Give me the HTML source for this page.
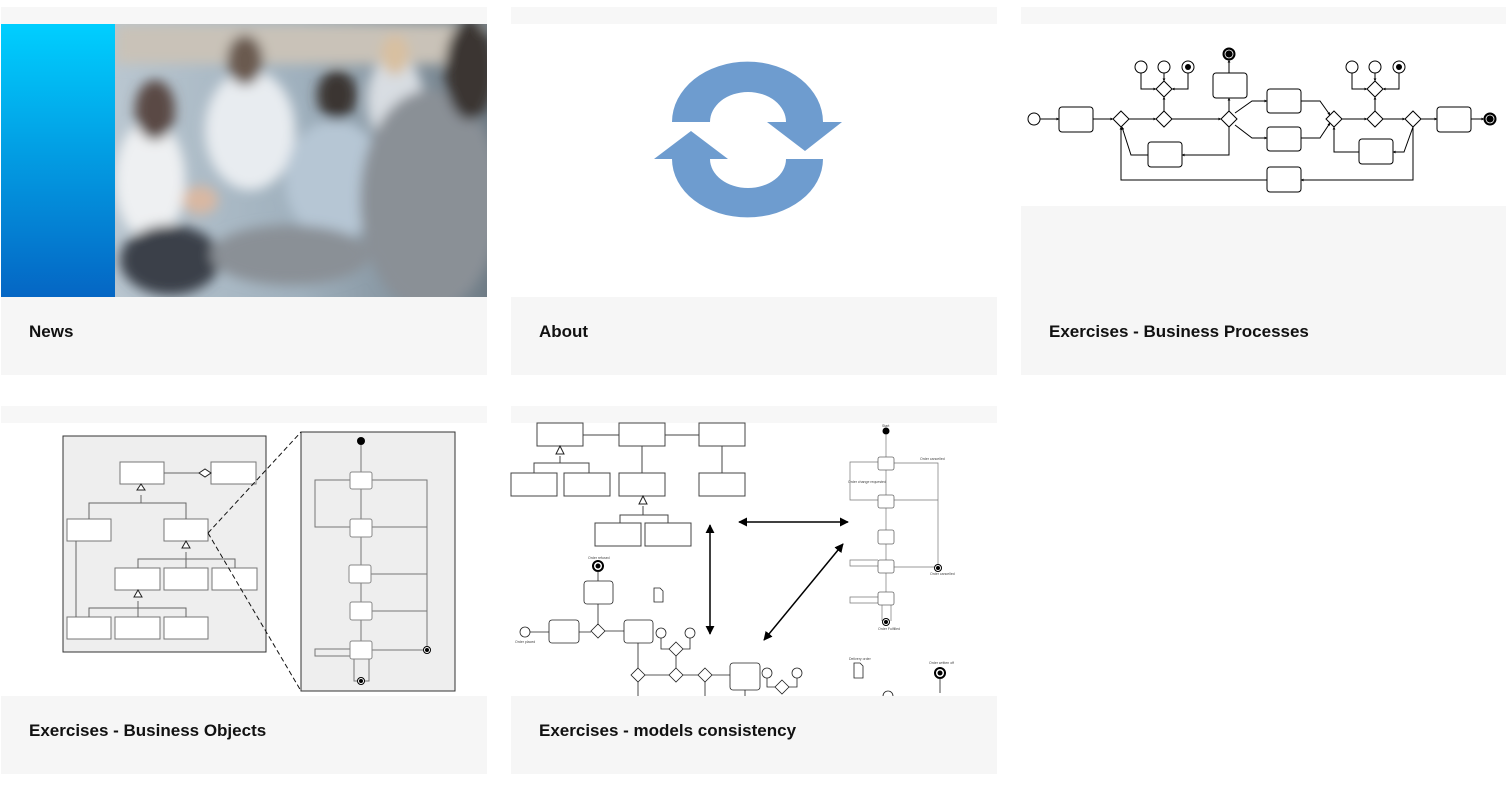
<!DOCTYPE html>
<html><head><meta charset="utf-8"><style>
html,body{margin:0;padding:0;background:#fff;width:1511px;height:796px;overflow:hidden;position:relative;font-family:"Liberation Sans",sans-serif}
.strip{position:absolute;background:#f7f7f7}
.cap{position:absolute;z-index:2;background:#f6f6f6;font-weight:bold;font-size:17px;color:#111;box-sizing:border-box;padding-left:28px;line-height:70px}
svg{position:absolute;left:0;top:0;z-index:1}
</style></head><body>
<!-- row 1 -->
<div class="strip" style="left:1px;top:7px;width:486px;height:17px"></div>
<div class="strip" style="left:511px;top:7px;width:486px;height:17px"></div>
<div class="strip" style="left:1021px;top:7px;width:485px;height:17px"></div>
<div class="cap" style="left:1px;top:297px;width:486px;height:78px">News</div>
<div class="cap" style="left:511px;top:297px;width:486px;height:78px">About</div>
<div class="cap" style="left:1021px;top:206px;width:485px;height:169px;line-height:251px">Exercises - Business Processes</div>
<!-- row 2 -->
<div class="strip" style="left:1px;top:406px;width:486px;height:17px"></div>
<div class="strip" style="left:511px;top:406px;width:486px;height:17px"></div>
<div class="cap" style="left:1px;top:696px;width:486px;height:78px">Exercises - Business Objects</div>
<div class="cap" style="left:511px;top:696px;width:486px;height:78px">Exercises - models consistency</div>

<svg width="1511" height="796" viewBox="0 0 1511 796">
<defs>
<linearGradient id="cy" x1="0" y1="0" x2="0" y2="1"><stop offset="0" stop-color="#00cfff"/><stop offset="1" stop-color="#0566c4"/></linearGradient>
<linearGradient id="ph" x1="0" y1="0" x2="1" y2="0"><stop offset="0" stop-color="#b9c6d0"/><stop offset="0.5" stop-color="#9fb0bd"/><stop offset="1" stop-color="#6f7c86"/></linearGradient>
<filter id="bl"><feGaussianBlur stdDeviation="6"/></filter>
<marker id="ah" viewBox="0 0 10 10" refX="9" refY="5" markerWidth="6" markerHeight="6" orient="auto-start-reverse"><path d="M0,0L10,5L0,10z" fill="#000"/></marker>
<marker id="sa" viewBox="0 0 10 10" refX="9" refY="5" markerWidth="3" markerHeight="3" orient="auto"><path d="M0,0L10,5L0,10z" fill="#000"/></marker>
<clipPath id="pc"><rect x="115" y="24" width="372" height="273"/></clipPath>
</defs>
<!-- card1 image -->
<rect x="1" y="24" width="114" height="273" fill="url(#cy)"/>
<rect x="115" y="24" width="372" height="273" fill="url(#ph)"/>
<g clip-path="url(#pc)" filter="url(#bl)">
<rect x="115" y="24" width="372" height="40" fill="#c9c2b8"/>
<ellipse cx="150" cy="180" rx="35" ry="60" fill="#eef0f2"/>
<ellipse cx="155" cy="110" rx="20" ry="30" fill="#5a4a44"/>
<ellipse cx="250" cy="130" rx="45" ry="60" fill="#e8ecf0"/>
<ellipse cx="245" cy="60" rx="18" ry="25" fill="#6a5a50"/>
<ellipse cx="335" cy="180" rx="50" ry="60" fill="#b6c6d4"/>
<ellipse cx="337" cy="95" rx="20" ry="25" fill="#3a3430"/>
<ellipse cx="395" cy="100" rx="28" ry="45" fill="#d8dde2"/>
<ellipse cx="395" cy="55" rx="14" ry="20" fill="#d8c0a0"/>
<ellipse cx="170" cy="260" rx="50" ry="35" fill="#3b3f48"/>
<ellipse cx="430" cy="200" rx="70" ry="110" fill="#8a9096"/>
<ellipse cx="470" cy="70" rx="25" ry="50" fill="#3a3532"/>
<ellipse cx="290" cy="255" rx="80" ry="30" fill="#8a9096"/>
<ellipse cx="200" cy="200" rx="18" ry="14" fill="#d9b8a2"/>
</g>
<!-- card2 sync -->
<path d="M672 122 A75 60 0 0 1 823 122 L842 122 L805 151 L767 122 L786 122 A38 30 0 0 0 710 122 Z" fill="#6e9ccf"/>
<path d="M823 159 A75 58 0 0 1 672 159 L654 159 L691 131 L728 159 L710 159 A38 29 0 0 0 786 159 Z" fill="#6e9ccf"/>
<!-- card3 BPMN -->
<g fill="#fff" stroke="#000" stroke-width="1">
<circle cx="1034" cy="119" r="6"/>
<rect x="1059" y="107" width="34" height="25" rx="3"/>
<rect x="1213" y="73" width="34" height="25" rx="3"/>
<rect x="1267" y="89" width="34" height="24" rx="3"/>
<rect x="1267" y="127" width="34" height="24" rx="3"/>
<rect x="1148" y="142" width="34" height="25" rx="3"/>
<rect x="1359" y="139" width="34" height="25" rx="3"/>
<rect x="1267" y="167" width="34" height="25" rx="3"/>
<rect x="1437" y="107" width="34" height="25" rx="3"/>
<circle cx="1141" cy="67" r="6"/><circle cx="1164" cy="67" r="6"/>
<circle cx="1352" cy="67" r="6"/><circle cx="1375" cy="67" r="6"/>
<circle cx="1188" cy="67" r="6"/><circle cx="1399" cy="67" r="6"/>
<path d="M1121 111l8 8l-8 8l-8-8z M1164 111l8 8l-8 8l-8-8z M1164 81l8 8l-8 8l-8-8z M1229 111l8 8l-8 8l-8-8z M1334 111l8 8l-8 8l-8-8z M1375 111l8 8l-8 8l-8-8z M1375 81l8 8l-8 8l-8-8z M1413 111l8 8l-8 8l-8-8z"/>
</g>
<circle cx="1188" cy="67" r="3" fill="#000"/><circle cx="1399" cy="67" r="3" fill="#000"/>
<circle cx="1229" cy="54" r="5.5" fill="#000" stroke="#000" stroke-width="2"/><circle cx="1229" cy="54" r="4" fill="#000" stroke="#fff" stroke-width="0.8"/>
<circle cx="1490" cy="119" r="5.5" fill="#000" stroke="#000" stroke-width="2"/><circle cx="1490" cy="119" r="4" fill="#000" stroke="#fff" stroke-width="0.8"/>
<g fill="none" stroke="#000" stroke-width="1" marker-end="url(#sa)">
<path d="M1040 119H1059"/><path d="M1093 119H1113"/><path d="M1129 119H1156"/><path d="M1172 119H1221"/>
<path d="M1164 111V97"/><path d="M1141 73V89H1156"/><path d="M1164 73V81"/><path d="M1188 73V89H1172"/>
<path d="M1229 111V98"/><path d="M1229 73V60"/>
<path d="M1235 113L1252 101H1267"/><path d="M1235 125L1252 138H1267"/>
<path d="M1301 101H1320L1330 115"/><path d="M1301 138H1320L1330 123"/>
<path d="M1342 119H1367"/><path d="M1383 119H1405"/><path d="M1375 111V97"/>
<path d="M1352 73V89H1367"/><path d="M1375 73V81"/><path d="M1399 73V89H1383"/>
<path d="M1421 119H1437"/><path d="M1471 119H1484"/>
<path d="M1229 127V155H1182"/><path d="M1148 155H1131L1122 127"/>
<path d="M1413 127L1404 152H1393"/><path d="M1359 152H1334V127"/>
<path d="M1413 127V180H1301"/><path d="M1267 180H1121V127"/>
</g>
<!-- card4 -->
<g stroke="#333" stroke-width="1">
<rect x="63" y="436" width="203" height="216" fill="#eee"/>
<rect x="301" y="432" width="154" height="259" fill="#eee"/>
</g>
<g fill="#fff" stroke="#777" stroke-width="1">
<rect x="120" y="462" width="44" height="22"/><rect x="211" y="462" width="45" height="22"/>
<rect x="67" y="519" width="44" height="22"/><rect x="164" y="519" width="44" height="22"/>
<rect x="115" y="568" width="45" height="22"/><rect x="164" y="568" width="44" height="22"/><rect x="212" y="568" width="45" height="22"/>
<rect x="67" y="617" width="44" height="22"/><rect x="115" y="617" width="45" height="22"/><rect x="164" y="617" width="44" height="22"/>
</g>
<g fill="none" stroke="#666" stroke-width="1">
<path d="M164 473H199"/><path d="M141 495V503H89V519M141 503H186V519"/>
<path d="M186 552V559H138V568M186 559H235V568M186 559V568"/>
<path d="M138 601V608H89V617M138 608H186V617M138 608V617"/>
<path d="M76 541V617"/>
</g>
<path d="M199 473l6-4l6 4l-6 4z" fill="#fff" stroke="#222"/>
<path d="M141 484l-4 6h8z M186 541l-4 7h8z M138 590l-4 7h8z" fill="#fff" stroke="#222"/>
<path d="M208 533L301 432M208 533L301 691" stroke="#111" stroke-dasharray="5,3" fill="none"/>
<circle cx="361" cy="441" r="4" fill="#000"/>
<g fill="none" stroke="#777" stroke-width="1">
<path d="M361 445V641"/><path d="M372 480H427V649"/><path d="M350 480H315V527H350"/><path d="M372 527H427"/><path d="M371 574H427"/><path d="M372 611H427"/><path d="M372 650H424"/>
<path d="M350 649H315V656H350"/><path d="M354 659V681H358M369 659V681H364"/>
</g>
<g fill="#fff" stroke="#888" stroke-width="1">
<rect x="350" y="472" width="22" height="17" rx="2"/><rect x="350" y="519" width="22" height="18" rx="2"/><rect x="349" y="565" width="22" height="18" rx="2"/><rect x="350" y="602" width="22" height="18" rx="2"/><rect x="350" y="641" width="22" height="18" rx="2"/>
</g>
<circle cx="427" cy="650" r="3.5" fill="#fff" stroke="#000"/><circle cx="427" cy="650" r="2" fill="#000"/>
<circle cx="361" cy="681" r="3.5" fill="#fff" stroke="#000"/><circle cx="361" cy="681" r="2" fill="#000"/>
<!-- card5 -->
<g fill="#fff" stroke="#444" stroke-width="1">
<rect x="537" y="423" width="46" height="23"/><rect x="619" y="423" width="46" height="23"/><rect x="699" y="423" width="46" height="23"/>
<rect x="511" y="473" width="46" height="23"/><rect x="564" y="473" width="46" height="23"/><rect x="619" y="473" width="46" height="23"/><rect x="699" y="473" width="46" height="23"/>
<rect x="595" y="523" width="46" height="23"/><rect x="645" y="523" width="46" height="23"/>
</g>
<g fill="none" stroke="#444"><path d="M583 435H619M665 435H699M642 446V473M722 446V473M560 456V463H534V473M560 463H589V473M643 506V515H620V523M643 515H668V523"/></g>
<path d="M560 446l-4 8h8z M643 496l-4 8h8z" fill="#fff" stroke="#222"/>
<g stroke="#000" stroke-width="1.5" fill="none" marker-start="url(#ah)" marker-end="url(#ah)">
<path d="M710 525V634"/><path d="M739 522H848"/><path d="M764 640L843 544"/>
</g>
<!-- state machine -->
<circle cx="886" cy="431" r="3.5" fill="#000"/>
<g fill="none" stroke="#777" stroke-width="0.7">
<path d="M886 434V592"/><path d="M894 463H938V565"/><path d="M894 500H938"/><path d="M894 567H934"/>
<path d="M878 500H850V462H878"/><path d="M878 566H850V560H878M878 597H850V603H878"/><path d="M882 605V621M891 605V621"/>
</g>
<g fill="#fff" stroke="#666" stroke-width="0.8">
<rect x="878" y="457" width="16" height="13" rx="2"/><rect x="878" y="495" width="16" height="13" rx="2"/><rect x="878" y="530" width="16" height="14" rx="2"/><rect x="878" y="560" width="16" height="13" rx="2"/><rect x="878" y="592" width="16" height="13" rx="2"/>
</g>
<circle cx="938" cy="568" r="3.5" fill="#fff" stroke="#000"/><circle cx="938" cy="568" r="2" fill="#000"/>
<circle cx="886" cy="622" r="3.5" fill="#fff" stroke="#000"/><circle cx="886" cy="622" r="2" fill="#000"/>
<g font-size="3.5" fill="#444" font-family="Liberation Sans,sans-serif">
<text x="882" y="427">Start</text><text x="848" y="483">Order change requested</text><text x="920" y="460">Order cancelled</text><text x="930" y="575">Order cancelled</text><text x="878" y="630">Order Fulfilled</text>
<text x="588" y="559">Order refused</text><text x="515" y="643">Order placed</text><text x="551" y="633">Check the order</text><text x="586" y="593">Refuse the order</text><text x="626" y="630">Collect the order</text><text x="733" y="677">Pack the order</text><text x="929" y="664">Order written off</text><text x="849" y="660">Delivery order</text>
</g>
<!-- bpmn bottom -->
<g fill="#fff" stroke="#222" stroke-width="0.8">
<circle cx="525" cy="632" r="5"/>
<rect x="549" y="620" width="30" height="23" rx="3"/><rect x="584" y="581" width="29" height="23" rx="3"/><rect x="624" y="620" width="29" height="23" rx="3"/><rect x="730" y="663" width="30" height="27" rx="3"/>
<circle cx="661" cy="633" r="5"/><circle cx="690" cy="633" r="5"/><circle cx="767" cy="673" r="5"/><circle cx="797" cy="673" r="5"/>
<path d="M598 624l7 7l-7 7l-7-7z M638 668l7 7l-7 7l-7-7z M676 642l7 7l-7 7l-7-7z M676 668l7 7l-7 7l-7-7z M705 668l7 7l-7 7l-7-7z M782 680l7 7l-7 7l-7-7z"/>
<path d="M654 588h6l3 3v11h-9z M854 663h6l3 3v12h-9z"/>
<circle cx="888" cy="696" r="5"/>
</g>
<circle cx="598" cy="566" r="5" fill="#fff" stroke="#000" stroke-width="2"/><circle cx="598" cy="566" r="2.5" fill="#000"/>
<circle cx="940" cy="673" r="5" fill="#fff" stroke="#000" stroke-width="2"/><circle cx="940" cy="673" r="2.5" fill="#000"/>
<g fill="none" stroke="#222" stroke-width="0.8">
<path d="M530 632H549M579 632H591M605 631H624M598 624V604M598 581V571M638 643V668M645 675H669M683 675H698M712 675H730M661 638V649H669M690 638V649H683M676 656V668M638 682V696M705 682V696M745 690V696M767 678V687H775M797 678V687H789M940 678V693"/>
</g>
</svg>
</body></html>
